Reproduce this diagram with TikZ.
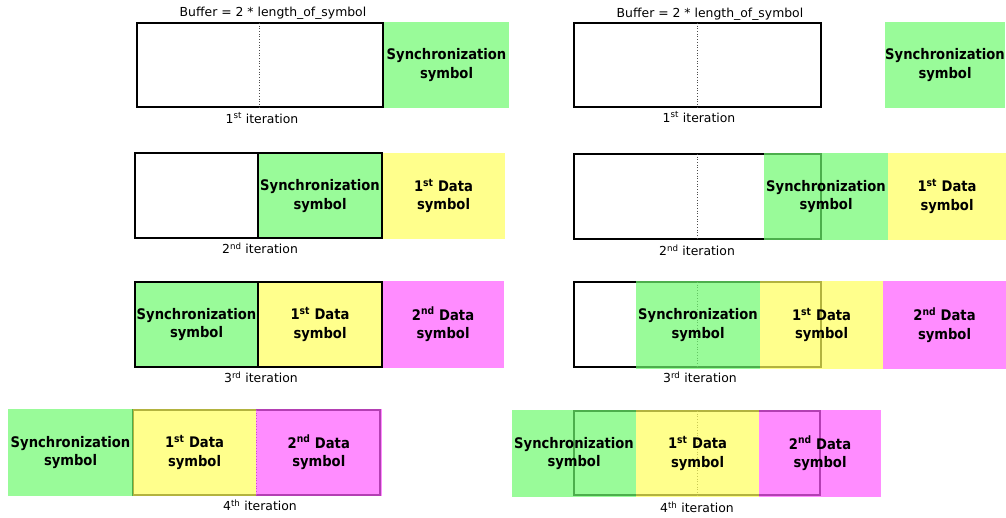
\documentclass[tikz,border=0pt]{standalone}
\usepackage{fontspec}
\setmainfont{DejaVu Sans}
\newfontface\blkfont{DejaVu Sans Condensed Bold}
\begin{document}
\begin{tikzpicture}[x=1pt,y=-1pt,
  buf/.style={draw=black,line width=2pt},
  divdot/.style={draw=black!70,line width=0.7pt,dotted},
  divsolid/.style={draw=black,line width=1.2pt},
  blk/.style={rectangle,inner sep=0pt,align=center,fill opacity=0.7,text opacity=1,
    font=\blkfont\fontsize{14.6}{18.5}\selectfont},
  sync/.style={blk,fill=syncgreen},
  dataA/.style={blk,fill=datayellow},
  dataB/.style={blk,fill=datapink},
  captext/.style={inner sep=0pt,font=\fontsize{12.4}{14}\selectfont}
]
\definecolor{syncgreen}{RGB}{109,249,109}
\definecolor{datayellow}{RGB}{255,255,91}
\definecolor{datapink}{RGB}{255,91,255}
\useasboundingbox (0,0) rectangle (1006,518);

% block given by left, top, right, bottom edges
\newcommand\blockat[7]{%
  \node[#1,minimum width={#5-#3},minimum height={#6-#4}] (#2) at ({(#3+#5)/2},{(#4+#6)/2}) {#7};}
\newcommand\synctxt{Synchronization\\symbol}
\newcommand\firsttxt{1\textsuperscript{st} Data\\symbol}
\newcommand\secondtxt{2\textsuperscript{nd} Data\\symbol}

% ---------------- left column ----------------
% iteration 1
\draw[buf] (137,23) rectangle (383,107);
\draw[divdot] (259,23) -- (259,107);
\blockat{sync}{lsA}{384}{22}{509}{108}{\synctxt}
\node[captext] (lbufA) at (273,13) {Buffer = 2 * length\_of\_symbol};
\node[captext] (litA) at (262,118) {1\textsuperscript{st} iteration};

% iteration 2
\blockat{sync}{lsB}{258}{153}{382}{239}{\synctxt}
\blockat{dataA}{ldB}{382}{153}{505}{239}{\firsttxt}
\draw[buf] (135,153) rectangle (382,238);
\draw[divsolid] (258,153) -- (258,238);
\node[captext] (litB) at (260,248) {2\textsuperscript{nd} iteration};

% iteration 3
\blockat{sync}{lsC}{135}{281}{258}{368}{\synctxt}
\blockat{dataA}{ldC}{258}{281}{382}{368}{\firsttxt}
\blockat{dataB}{leC}{382}{281}{504}{368}{\secondtxt}
\draw[buf] (135,282) rectangle (382,367);
\draw[divsolid] (258,282) -- (258,367);
\node[captext] (litC) at (261,377) {3\textsuperscript{rd} iteration};

% iteration 4
\draw[buf] (133,410) rectangle (380,495);
\draw[divdot] (256,410) -- (256,495);
\blockat{sync}{lsD}{8}{409}{133}{496}{\synctxt}
\blockat{dataA}{ldD}{133}{409}{256}{496}{\firsttxt}
\blockat{dataB}{leD}{256}{409}{381.5}{496}{\secondtxt}
\node[captext] (litD) at (260,505) {4\textsuperscript{th} iteration};

% ---------------- right column ----------------
% iteration 1
\draw[buf] (574,23) rectangle (821,107);
\draw[divdot] (697,23) -- (697,107);
\blockat{sync}{rsA}{885}{22}{1005}{108}{\synctxt}
\node[captext] (rbufA) at (710,14) {Buffer = 2 * length\_of\_symbol};
\node[captext] (ritA) at (699,117) {1\textsuperscript{st} iteration};

% iteration 2
\draw[buf] (574,154) rectangle (821,239);
\draw[divdot] (697,154) -- (697,239);
\blockat{sync}{rsB}{764}{153}{888}{240}{\synctxt}
\blockat{dataA}{rdB}{888}{153}{1006}{240}{\firsttxt}
\node[captext] (ritB) at (697,250) {2\textsuperscript{nd} iteration};

% iteration 3
\draw[buf] (574,282) rectangle (821,367);
\draw[divdot] (697,282) -- (697,367);
\blockat{sync}{rsC}{636}{281}{760}{369}{\synctxt}
\blockat{dataA}{rdC}{760}{281}{883}{369}{\firsttxt}
\blockat{dataB}{reC}{883}{281}{1006}{369}{\secondtxt}
\node[captext] (ritC) at (700,377) {3\textsuperscript{rd} iteration};

% iteration 4
\draw[buf] (574,411) rectangle (820,495);
\draw[divdot] (697,411) -- (697,495);
\blockat{sync}{rsD}{512}{410}{636}{497}{\synctxt}
\blockat{dataA}{rdD}{636}{410}{759}{497}{\firsttxt}
\blockat{dataB}{reD}{759}{410}{881}{497}{\secondtxt}
\node[captext] (ritD) at (697,507) {4\textsuperscript{th} iteration};
\end{tikzpicture}
\end{document}
